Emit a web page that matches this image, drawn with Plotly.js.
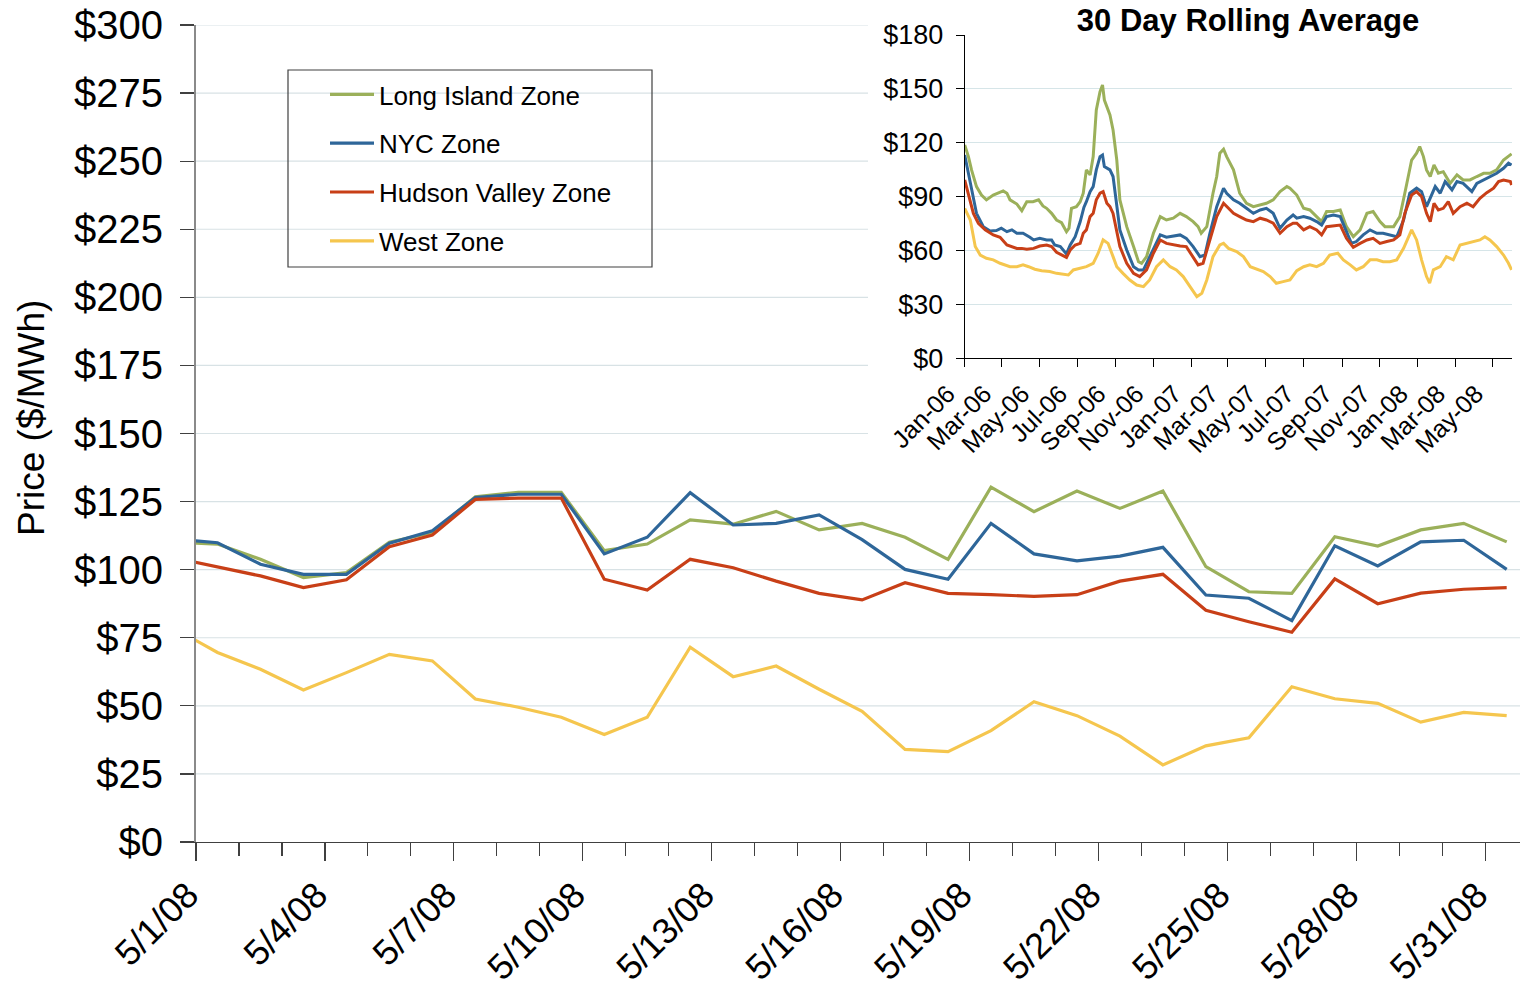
<!DOCTYPE html>
<html>
<head>
<meta charset="utf-8">
<script src="https://cdn.plot.ly/plotly-3.0.1.min.js"></script>
<style>html,body{margin:0;padding:0;background:#fff;}#chart{width:1520px;height:996px;}</style>
</head>
<body>
<div id="chart"></div>
<script>
// ---------- Main chart data (daily prices, May 2008; first entry 4/30 is clipped at the axis) ----------
const mainDates = ['2008-04-30','2008-05-01','2008-05-02','2008-05-03','2008-05-04','2008-05-05','2008-05-06','2008-05-07','2008-05-08','2008-05-09','2008-05-10','2008-05-11','2008-05-12','2008-05-13','2008-05-14','2008-05-15','2008-05-16','2008-05-17','2008-05-18','2008-05-19','2008-05-20','2008-05-21','2008-05-22','2008-05-23','2008-05-24','2008-05-25','2008-05-26','2008-05-27','2008-05-28','2008-05-29','2008-05-30','2008-05-31'];
const longIsland = [110.0,109.4,103.8,97.1,98.9,110.1,113.6,126.8,128.4,128.4,107.0,109.4,118.3,116.7,121.4,114.6,117.0,111.9,103.8,130.3,121.3,128.9,122.5,128.9,101.1,91.9,91.3,112.1,108.7,114.6,117.0,110.2];
const nyc = [111.3,109.9,102.0,98.3,98.3,109.7,114.3,126.5,127.7,127.7,105.8,111.9,128.3,116.4,117.0,120.1,111.0,100.1,96.5,117.0,105.8,103.2,105.0,108.2,90.7,89.5,81.3,108.8,101.4,110.2,110.8,100.1];
const hudsonValley = [104.3,100.9,97.7,93.4,96.3,108.4,112.7,125.8,126.3,126.3,96.5,92.5,103.8,100.7,95.8,91.3,88.9,95.2,91.3,90.8,90.2,90.8,95.8,98.3,85.1,80.9,77.0,96.6,87.5,91.4,92.8,93.4];
const west = [78.4,69.6,63.4,55.8,62.2,68.9,66.5,52.5,49.5,45.8,39.5,45.8,71.5,60.7,64.6,56.1,48.0,34.0,33.2,40.9,51.5,46.4,38.9,28.3,35.3,38.3,57.0,52.6,50.9,44.0,47.6,46.4];
const seriesNames = ['Long Island Zone','NYC Zone','Hudson Valley Zone','West Zone'];
const mainTickLabels = ['5/1/08','5/4/08','5/7/08','5/10/08','5/13/08','5/16/08','5/19/08','5/22/08','5/25/08','5/28/08','5/31/08'];
const mainTickDates = ['2008-05-01','2008-05-04','2008-05-07','2008-05-10','2008-05-13','2008-05-16','2008-05-19','2008-05-22','2008-05-25','2008-05-28','2008-05-31'];
const mainYTicks = [0,25,50,75,100,125,150,175,200,225,250,275,300];
const yAxisTitle = 'Price ($/MWh)';
const insetTitle = '30 Day Rolling Average';

// ---------- Inset: 30 day rolling average (days since 2006-01-01) ----------
const liDays = [0,6,11,19,27,35,46,55,62,68,73,84,92,100,110,119,126,132,140,148,156,164,168,172,180,186,191,196,202,207,212,218,222,225,229,234,239,245,250,261,272,280,285,293,304,315,325,336,347,357,368,376,381,390,400,406,411,417,422,433,443,454,465,476,486,497,508,519,524,535,546,556,567,575,583,594,605,615,626,637,648,658,669,677,691,701,709,720,728,733,739,744,750,756,763,771,782,793,803,814,825,836,846,857,868,879,881];
const liAvg = [118.8,112.3,104.9,95.6,90.9,88.2,90.9,92.2,93.2,91.9,88.2,85.9,82.2,87.2,87.2,88.2,84.8,83.5,80.7,77.0,75.5,70.5,72.4,83.5,84.4,87.2,91.9,104.9,102.1,112.3,138.3,148.5,152.2,143.8,140.1,135.5,127.1,110.4,88.2,73.3,62.2,53.8,52.9,56.6,69.6,78.9,77.0,78.0,80.7,78.9,76.1,73.3,69.6,73.3,91.9,101.2,114.2,116.4,112.3,104.9,91.9,86.3,84.4,85.4,86.3,88.2,92.8,95.6,94.7,90.9,83.5,82.6,78.9,76.1,81.7,81.7,82.6,73.3,67.7,71.5,80.7,81.7,76.1,73.3,73.3,78.9,91.9,110.4,114.2,117.9,112.3,104.9,101.2,107.7,103.0,103.9,97.4,102.1,99.3,99.3,101.2,103.0,103.0,104.9,110.4,113.2,113.8];
const nycDays = [0,6,14,19,30,41,51,59,68,76,84,94,105,111,121,132,140,145,154,164,170,178,186,192,196,202,207,212,218,222,225,234,239,245,250,261,272,280,288,293,304,315,325,336,347,357,368,379,387,395,406,417,422,433,443,454,465,476,486,497,508,519,529,535,546,556,567,575,583,594,605,615,623,631,642,653,664,674,685,696,707,717,728,736,744,750,758,766,774,785,793,803,817,825,836,846,857,868,876,881];
const nycAvg = [113.2,103.0,88.2,80.7,73.3,70.9,71.1,72.4,70.5,71.5,69.6,69.6,67.4,65.9,66.8,65.9,65.9,63.1,62.2,58.1,63.1,67.7,76.0,84.0,87.2,92.8,95.6,104.9,112.3,113.2,106.7,104.9,101.2,84.4,71.5,60.3,51.0,49.2,49.2,52.9,61.2,68.7,67.4,68.1,68.7,66.8,62.2,56.6,57.5,69.6,84.4,94.7,91.9,88.2,86.3,83.5,80.7,82.6,83.5,80.7,72.4,77.0,79.8,78.0,78.9,78.0,76.1,74.2,78.9,79.8,78.9,70.5,64.0,65.0,68.7,71.5,69.6,69.6,68.7,67.7,77.0,91.9,94.7,92.8,84.4,89.1,95.6,91.9,98.4,93.8,98.4,97.4,92.8,97.4,99.3,101.2,103.0,105.8,108.6,107.6];
const hvDays = [0,6,14,22,33,46,57,68,76,84,92,100,111,121,132,140,148,156,164,170,178,186,191,196,202,207,212,218,223,229,234,239,245,250,261,272,282,293,304,315,325,336,347,357,368,376,384,395,406,417,422,433,443,454,465,476,486,497,508,519,529,535,546,556,567,575,583,594,605,615,626,637,648,658,669,680,691,701,709,720,728,736,744,750,756,763,771,779,787,798,809,819,830,841,852,860,868,879,881];
const hvAvg = [99.3,91.9,80.7,75.2,71.5,68.7,67.4,63.1,62.2,61.2,61.2,60.7,61.2,62.5,63.1,62.2,59.0,57.5,56.2,60.3,63.1,64.0,69.6,71.5,78.9,80.7,88.2,91.9,92.8,86.3,84.4,80.7,69.6,62.2,52.9,47.3,45.5,49.2,58.5,65.9,64.0,63.1,62.5,62.2,56.6,52.0,52.9,65.9,78.9,86.3,84.4,80.7,78.9,77.0,76.1,78.0,77.0,75.2,69.6,73.3,75.2,75.2,71.5,73.3,71.5,68.7,73.3,73.7,74.2,66.8,61.8,64.0,65.9,66.8,64.0,65.0,65.9,68.7,80.7,90.9,92.8,90.0,80.7,76.1,86.3,82.6,83.5,87.2,80.7,84.4,86.3,84.4,89.1,92.2,94.7,98.4,99.3,98.4,96.5];
const westDays = [0,9,17,25,35,46,57,65,73,84,94,103,113,124,137,148,159,167,175,186,196,207,215,223,231,239,245,255,266,277,288,298,309,320,331,341,352,363,374,382,390,400,411,417,425,438,449,460,470,481,492,502,513,524,535,546,556,567,578,588,601,610,621,631,642,653,664,674,685,696,707,715,720,728,736,744,749,755,766,776,787,798,809,819,830,838,846,857,868,876,881];
const westAvg = [83.5,77.0,62.2,57.5,55.7,54.8,52.9,52.0,51.0,51.0,52.0,51.0,49.6,48.8,48.3,47.3,47.0,46.4,49.2,50.1,51.0,52.9,58.5,65.9,64.0,56.6,51.0,47.3,43.6,40.8,39.9,43.6,51.0,54.8,51.0,49.2,45.5,39.9,34.3,36.2,43.6,56.6,63.1,64.0,61.2,59.4,56.6,51.0,49.6,48.3,45.5,41.8,42.7,43.6,48.8,51.0,52.0,51.0,52.9,57.5,58.5,54.8,52.0,49.2,51.0,54.8,54.8,53.8,53.8,54.8,61.2,67.7,71.5,65.9,54.8,45.5,41.8,49.2,51.0,56.6,54.8,63.1,64.0,65.0,65.9,67.7,65.9,62.2,57.5,52.9,49.2];
const insetYTicks = [0,30,60,90,120,150,180];

const colors = ['#9BB05A','#2E6699','#C83F17','#F5C64E'];

// ---------- helpers ----------
const W = 1520, H = 996;
const px = x => x / W;
const py = y => 1 - y / H;
const dayToDate = d => new Date(Date.UTC(2006,0,1) + d*86400000).toISOString().slice(0,10);
const halfDayBefore = s => { const t = new Date(s + 'T00:00:00Z').getTime() - 43200000; return new Date(t).toISOString().replace('T',' ').slice(0,19); };
const fontFam = 'Liberation Sans, Arial, Helvetica, sans-serif';

const mainSeries = [longIsland, nyc, hudsonValley, west];
const traces = mainSeries.map((vals, i) => ({
  type: 'scatter', mode: 'lines', x: mainDates, y: vals, name: seriesNames[i],
  line: {color: colors[i], width: 3.2}, legendgroup: 'g' + i, showlegend: true,
  xaxis: 'x', yaxis: 'y', hoverinfo: 'x+y+name'
}));
const insetDays = [liDays, nycDays, hvDays, westDays];
const insetVals = [liAvg, nycAvg, hvAvg, westAvg];
insetVals.forEach((vals, i) => traces.push({
  type: 'scatter', mode: 'lines', x: insetDays[i].map(dayToDate), y: vals, name: seriesNames[i],
  line: {color: colors[i], width: 3}, showlegend: false, xaxis: 'x2', yaxis: 'y2'
}));

// gridlines for the main chart (stop where the inset chart area begins)
const shapes = mainYTicks.filter(v => v > 0).map(v => ({
  type: 'line', xref: 'paper', yref: 'y', x0: px(196), x1: v >= 150 ? px(868) : 1, y0: v, y1: v,
  line: {color: '#D8E2E5', width: 1.2}, layer: 'below'
}));
// legend frame
shapes.push({type: 'rect', xref: 'paper', yref: 'paper', x0: px(288), x1: px(652), y0: py(267), y1: py(70),
  line: {color: '#404040', width: 1.2}, fillcolor: 'rgba(255,255,255,0)', layer: 'above'});

const layout = {
  width: W, height: H,
  margin: {l: 0, r: 0, t: 0, b: 0},
  paper_bgcolor: '#ffffff', plot_bgcolor: 'rgba(0,0,0,0)',
  font: {family: fontFam, color: '#000000'},
  showlegend: true,
  legend: {x: px(325), y: py(71), xanchor: 'left', yanchor: 'top', bgcolor: 'rgba(0,0,0,0)',
    borderwidth: 0, font: {size: 26, family: fontFam}, traceorder: 'grouped', tracegroupgap: 12, itemwidth: 44},
  title: {text: '<b>' + insetTitle + '</b>', x: px(1248), y: py(20), xanchor: 'center', yanchor: 'middle',
    font: {size: 31, family: fontFam}},
  annotations: [{text: yAxisTitle, textangle: -90, xref: 'paper', yref: 'paper', x: px(31), y: py(418),
    xanchor: 'center', yanchor: 'middle', showarrow: false, font: {size: 37, family: fontFam}}],
  xaxis: {
    domain: [px(196), 1], anchor: 'y', type: 'date',
    range: [halfDayBefore('2008-05-01'), '2008-05-31 07:26:00'],
    tickmode: 'array', tickvals: mainTickDates.map(halfDayBefore), ticktext: mainTickLabels,
    tickangle: -45, tickfont: {size: 36}, ticks: 'outside', ticklen: 18, tickwidth: 1.2, tickcolor: '#404040',
    ticklabelshift: -8, ticklabelstandoff: -2,
    minor: {ticks: 'outside', ticklen: 13, tickwidth: 1.2, tickcolor: '#404040', tickmode: 'linear',
      tick0: halfDayBefore('2008-05-01'), dtick: 86400000, showgrid: false},
    showline: true, linecolor: '#404040', linewidth: 1.3, showgrid: false, zeroline: false, fixedrange: true
  },
  yaxis: {
    domain: [py(842), py(25)], anchor: 'x', range: [0, 300],
    tickmode: 'array', tickvals: mainYTicks, ticktext: mainYTicks.map(v => '$' + v),
    tickfont: {size: 40}, ticks: 'outside', ticklen: 14, tickwidth: 1.2, tickcolor: '#404040',
    ticklabelstandoff: 9,
    showline: true, linecolor: '#8a8a8a', linewidth: 2, showgrid: false, zeroline: false, fixedrange: true
  },
  xaxis2: {
    domain: [px(964.7), px(1512.2)], anchor: 'y2', type: 'date',
    range: ['2006-01-01', '2008-06-01'], tickmode: 'linear', tick0: '2006-01-01', dtick: 'M2',
    tickformat: '%b-%y', tickangle: -45, tickfont: {size: 25}, ticks: 'outside', ticklen: 8, tickcolor: '#000',
    ticklabelshift: -17, ticklabelstandoff: 2,
    showline: true, linecolor: '#000', linewidth: 1, showgrid: false, zeroline: false, fixedrange: true
  },
  yaxis2: {
    domain: [py(358.3), py(35)], anchor: 'x2', range: [0, 180],
    tickmode: 'array', tickvals: insetYTicks, ticktext: insetYTicks.map(v => '$' + v),
    tickfont: {size: 27}, ticks: 'outside', ticklen: 8, tickcolor: '#000', ticklabelstandoff: 7,
    showline: true, linecolor: '#000', linewidth: 1, showgrid: true, gridcolor: '#D6E5E8', gridwidth: 1.2,
    zeroline: false, fixedrange: true
  },
  shapes: shapes
};

Plotly.newPlot('chart', traces, layout, {displayModeBar: false, staticPlot: true});
</script>
</body>
</html>
